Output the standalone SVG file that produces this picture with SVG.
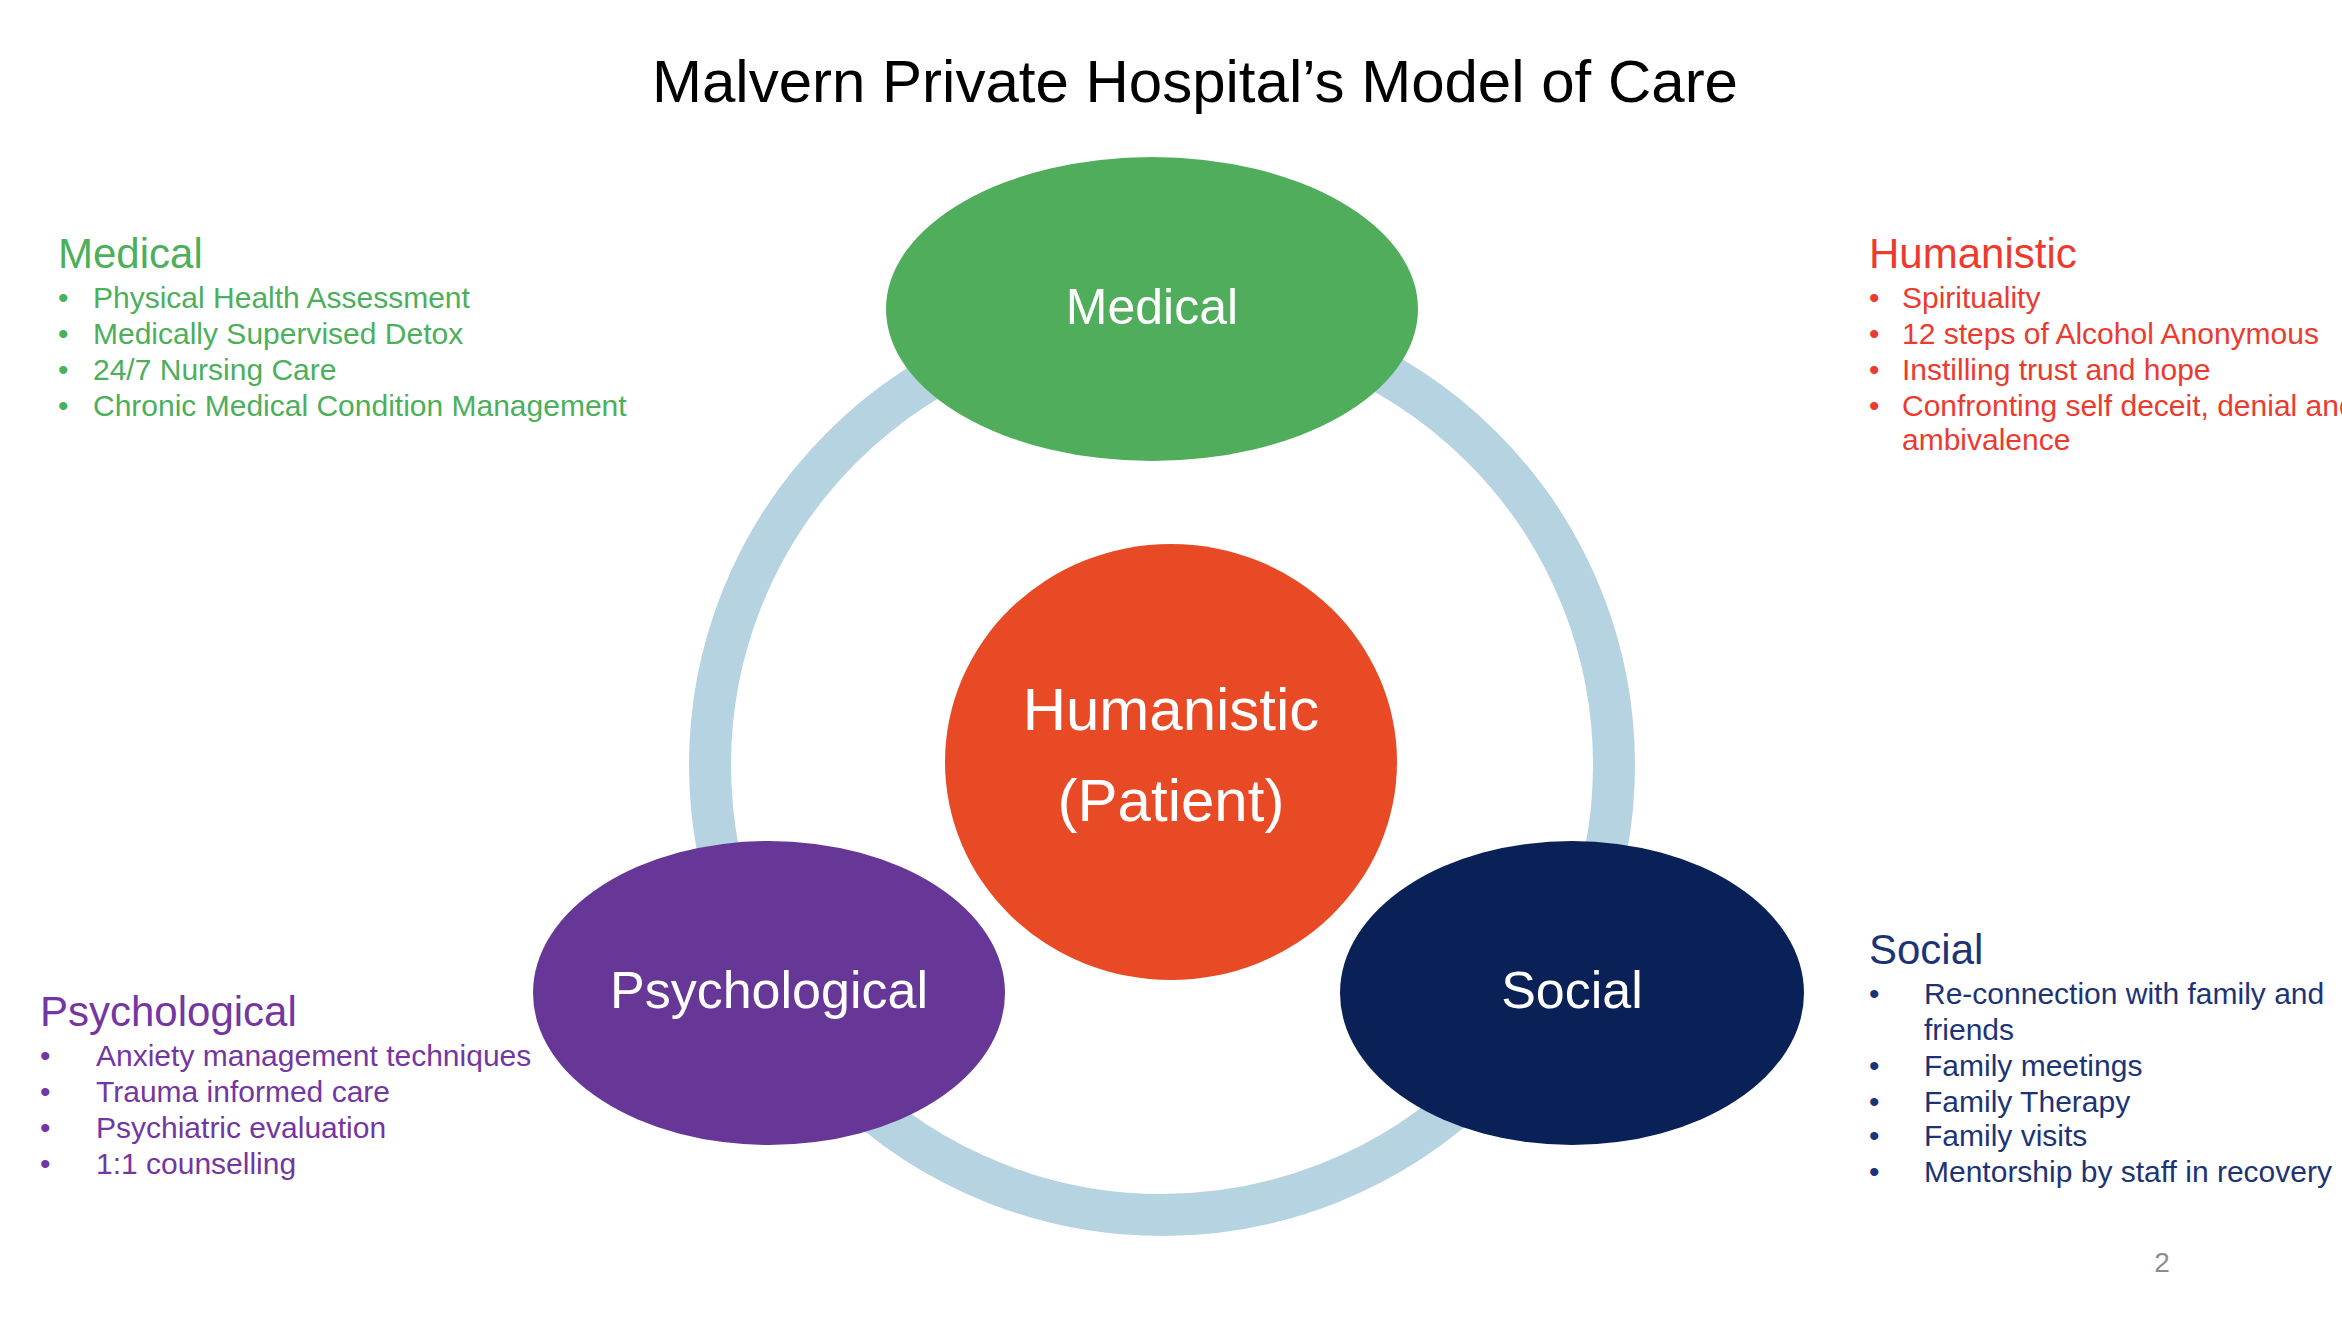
<svg xmlns="http://www.w3.org/2000/svg" width="2342" height="1318" viewBox="0 0 2342 1318">
<style>
text{font-family:"Liberation Sans",Arial,sans-serif}
.lbl{fill:#fff;text-anchor:middle}
.g{fill:#4caf5a}.r{fill:#ec3a2e}.p{fill:#7436a2}.n{fill:#1c3475}
.h{font-size:42px}.i{font-size:30px}
</style>
<rect width="2342" height="1318" fill="#fff"/>
<text x="1195" y="102" font-size="60" text-anchor="middle" fill="#000">Malvern Private Hospital’s Model of Care</text>
<g id="connectors">
<ellipse cx="1162" cy="765" rx="452" ry="450" fill="none" stroke="#b6d3e1" stroke-width="42"/>
</g>
<g id="medical"><ellipse cx="1152" cy="309" rx="266" ry="152" fill="#50ad5c"/><text class="lbl" x="1152" y="324" font-size="50">Medical</text></g>
<g id="humanistic"><ellipse cx="1171" cy="762" rx="226" ry="218" fill="#e94a26"/><text class="lbl" x="1171" y="730" font-size="60">Humanistic</text><text class="lbl" x="1171" y="821" font-size="60">(Patient)</text></g>
<g id="psychological"><ellipse cx="769" cy="993" rx="236" ry="152" fill="#673797"/><text class="lbl" x="769" y="1008" font-size="52">Psychological</text></g>
<g id="social"><ellipse cx="1572" cy="993" rx="232" ry="152" fill="#0a2158"/><text class="lbl" x="1572" y="1008" font-size="52">Social</text></g>
<g id="medical-list" class="g">
<text class="h" x="58" y="268">Medical</text>
<g class="i"><text x="58" y="308">•</text><text x="93" y="308">Physical Health Assessment</text>
<text x="58" y="344">•</text><text x="93" y="344">Medically Supervised Detox</text>
<text x="58" y="380">•</text><text x="93" y="380">24/7 Nursing Care</text>
<text x="58" y="416">•</text><text x="93" y="416">Chronic Medical Condition Management</text></g>
</g>
<g id="humanistic-list" class="r">
<text class="h" x="1869" y="268">Humanistic</text>
<g class="i"><text x="1869" y="308">•</text><text x="1902" y="308">Spirituality</text>
<text x="1869" y="344">•</text><text x="1902" y="344">12 steps of Alcohol Anonymous</text>
<text x="1869" y="380">•</text><text x="1902" y="380">Instilling trust and hope</text>
<text x="1869" y="416">•</text><text x="1902" y="416">Confronting self deceit, denial and</text>
<text x="1902" y="450">ambivalence</text></g>
</g>
<g id="psychological-list" class="p">
<text class="h" x="40" y="1026">Psychological</text>
<g class="i"><text x="40" y="1066">•</text><text x="96" y="1066">Anxiety management techniques</text>
<text x="40" y="1102">•</text><text x="96" y="1102">Trauma informed care</text>
<text x="40" y="1138">•</text><text x="96" y="1138">Psychiatric evaluation</text>
<text x="40" y="1174">•</text><text x="96" y="1174">1:1 counselling</text></g>
</g>
<g id="social-list" class="n">
<text class="h" x="1869" y="964">Social</text>
<g class="i"><text x="1869" y="1004">•</text><text x="1924" y="1004">Re-connection with family and</text>
<text x="1924" y="1040">friends</text>
<text x="1869" y="1076">•</text><text x="1924" y="1076">Family meetings</text>
<text x="1869" y="1112">•</text><text x="1924" y="1112">Family Therapy</text>
<text x="1869" y="1146">•</text><text x="1924" y="1146">Family visits</text>
<text x="1869" y="1182">•</text><text x="1924" y="1182">Mentorship by staff in recovery</text></g>
</g>
<text x="2162" y="1272" font-size="28" fill="#8c8c8c" text-anchor="middle">2</text>
</svg>
